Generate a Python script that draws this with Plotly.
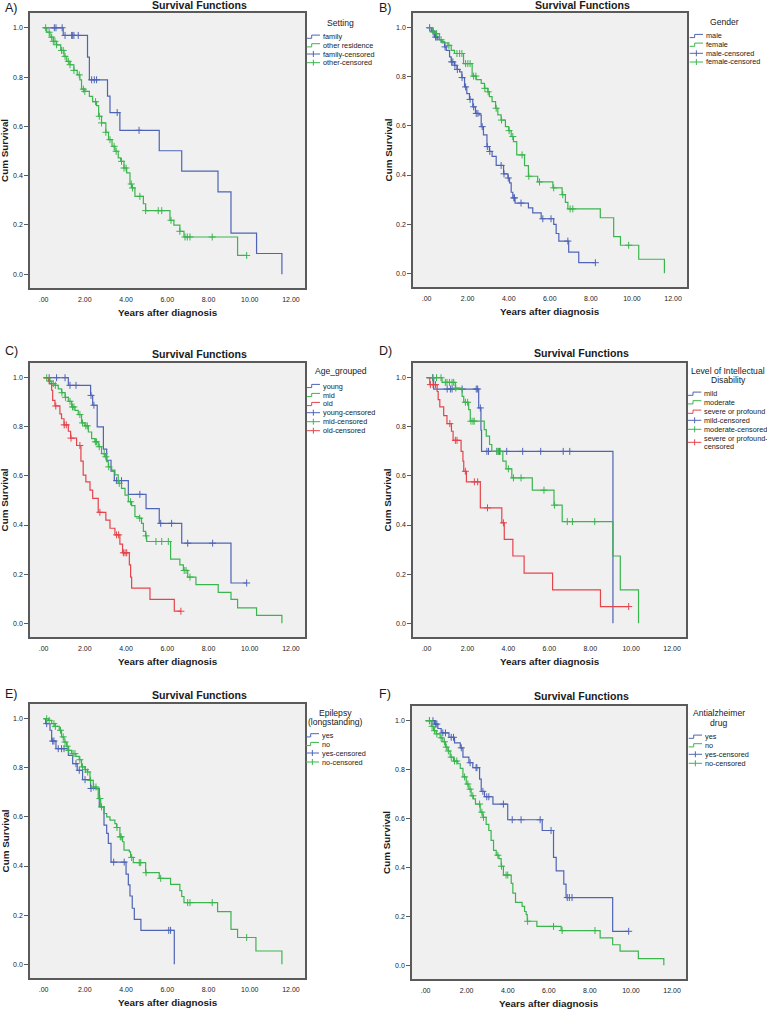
import plotly.graph_objects as go

W, H = 767, 1009
FONT = "Liberation Sans, Arial, sans-serif"
BLUE, GREEN, RED = "#4f64b6", "#3bb54e", "#e5444b"
FRAME = "#5a5a5a"
TXT = "#1a1a1a"

x_ticks = [0, 2, 4, 6, 8, 10, 12]
x_ticklabels = [".00", "2.00", "4.00", "6.00", "8.00", "10.00", "12.00"]
y_ticks = [0.0, 0.2, 0.4, 0.6, 0.8, 1.0]
y_ticklabels = ["0.0", "0.2", "0.4", "0.6", "0.8", "1.0"]

# A) Setting
a_family_t = [0.95, 2.13, 2.22, 3.10, 3.22, 3.70, 5.61, 6.70, 8.46, 9.09, 10.33, 11.56]
a_family_s = [0.969, 0.881, 0.789, 0.723, 0.656, 0.584, 0.501, 0.418, 0.334, 0.167, 0.084, 0.0]
a_family_c = [0.52, 0.60, 0.90, 1.04, 1.36, 1.41, 1.47, 1.68, 2.33, 2.46, 2.57, 3.57, 4.63]
a_other_t = [0.15, 0.31, 0.47, 0.63, 0.83, 0.99, 1.12, 1.28, 1.47, 1.63, 1.76, 1.84, 2.00, 2.22,
             2.38, 2.57, 2.67, 2.81, 3.02, 3.15, 3.32, 3.46, 3.62, 3.74, 3.90, 4.03, 4.19, 4.27,
             4.43, 4.84, 4.95, 6.13, 6.32, 6.61, 6.81, 9.41]
a_other_s = [0.982, 0.962, 0.945, 0.931, 0.908, 0.884, 0.864, 0.850, 0.827, 0.809, 0.789, 0.751,
             0.742, 0.722, 0.700, 0.684, 0.641, 0.614, 0.576, 0.546, 0.519, 0.499, 0.472, 0.458,
             0.431, 0.411, 0.366, 0.350, 0.316, 0.286, 0.258, 0.219, 0.199, 0.174, 0.151, 0.076]
a_other_c = [0.10, 0.27, 0.39, 0.47, 0.55, 0.63, 0.87, 0.95, 1.04, 1.20, 1.28, 1.47, 1.73, 1.93,
             2.00, 2.52, 2.70, 2.81, 3.02, 3.22, 3.42, 3.52, 3.78, 3.90, 4.00, 4.25, 4.31, 4.67,
             4.95, 5.56, 5.73, 6.18, 6.61, 6.86, 6.97, 7.10, 8.18, 9.85]
a_labels = ["family", "other residence", "family-censored", "other-censored"]

# B) Gender
b_male_t = [0.23, 0.39, 0.55, 0.71, 0.88, 0.96, 1.12, 1.20, 1.36, 1.48, 1.61, 1.72, 1.85, 1.96,
            2.09, 2.25, 2.38, 2.55, 2.66, 2.77, 2.94, 3.06, 3.19, 3.39, 3.75, 3.96, 4.04, 4.12,
            4.20, 4.31, 4.96, 5.17, 5.58, 6.19, 6.31, 6.44, 6.92, 7.41]
b_male_s = [0.986, 0.962, 0.951, 0.942, 0.922, 0.908, 0.881, 0.861, 0.847, 0.830, 0.820, 0.797,
            0.759, 0.732, 0.708, 0.678, 0.651, 0.645, 0.597, 0.564, 0.516, 0.496, 0.476, 0.439,
            0.405, 0.388, 0.368, 0.330, 0.307, 0.286, 0.266, 0.246, 0.222, 0.199, 0.162, 0.131,
            0.086, 0.043]
b_male_c = [0.15, 0.31, 0.44, 0.50, 0.90, 1.22, 1.28, 1.38, 1.50, 1.73, 1.90, 2.12, 2.29, 2.42,
            2.50, 2.71, 2.96, 3.08, 3.63, 3.77, 3.98, 4.25, 4.28, 4.60, 5.66, 6.06, 6.88, 8.22]
b_female_t = [0.31, 0.47, 0.63, 0.79, 1.04, 1.20, 1.36, 1.80, 2.22, 2.42, 2.66, 2.82, 2.98, 3.06,
              3.19, 3.36, 3.47, 3.63, 3.84, 4.00, 4.12, 4.23, 4.39, 4.77, 4.96, 5.41, 6.15, 6.60,
              6.76, 6.88, 8.46, 9.11, 9.44, 10.33, 11.58]
b_female_s = [0.982, 0.976, 0.951, 0.938, 0.928, 0.908, 0.895, 0.854, 0.803, 0.789, 0.773, 0.753,
              0.739, 0.719, 0.699, 0.672, 0.645, 0.624, 0.597, 0.581, 0.557, 0.536, 0.482, 0.438,
              0.395, 0.372, 0.348, 0.320, 0.289, 0.262, 0.226, 0.149, 0.114, 0.057, 0.0]
b_female_c = [0.33, 0.49, 0.71, 1.09, 1.48, 1.61, 1.72, 1.90, 2.01, 2.12, 2.29, 2.40, 2.84, 3.00,
              3.39, 3.65, 4.02, 4.20, 4.65, 4.98, 5.50, 6.19, 6.63, 6.99, 7.12, 9.84]
b_labels = ["male", "female", "male-censored", "female-censored"]

# C) Age_grouped
c_young_t = [1.20, 2.28, 2.38, 2.60, 2.90, 3.06, 3.27, 3.43, 4.11, 4.97, 5.61, 6.70, 9.09]
c_young_s = [0.969, 0.928, 0.888, 0.800, 0.709, 0.664, 0.620, 0.581, 0.525, 0.467, 0.407, 0.326, 0.164]
c_young_c = [0.27, 0.63, 1.04, 1.28, 1.57, 2.30, 2.44, 3.54, 3.78, 4.67, 5.68, 6.21, 6.99, 8.20, 9.85]
c_mid_t = [0.23, 0.39, 0.55, 0.71, 0.87, 1.04, 1.20, 1.36, 1.52, 1.68, 1.84, 2.00, 2.17, 2.33,
           2.49, 2.65, 2.81, 2.98, 3.06, 3.14, 3.30, 3.46, 3.62, 3.78, 3.95, 4.11, 4.27, 4.43,
           4.64, 4.75, 4.84, 4.95, 5.00, 6.16, 6.61, 6.78, 6.99, 7.39, 8.47, 9.09, 9.41, 10.33, 11.56]
c_mid_s = [0.986, 0.976, 0.969, 0.955, 0.939, 0.920, 0.904, 0.881, 0.867, 0.850, 0.816, 0.804,
           0.779, 0.752, 0.739, 0.719, 0.691, 0.678, 0.658, 0.637, 0.624, 0.604, 0.570, 0.549,
           0.522, 0.495, 0.479, 0.434, 0.428, 0.407, 0.374, 0.356, 0.333, 0.261, 0.238, 0.215,
           0.188, 0.157, 0.126, 0.097, 0.063, 0.032, 0.0]
c_mid_c = [0.15, 0.31, 0.47, 0.57, 0.89, 1.06, 1.28, 1.40, 1.47, 1.76, 1.89, 2.05, 2.12, 2.51,
           2.57, 2.70, 2.94, 3.02, 3.16, 3.67, 4.22, 4.66, 4.97, 5.45, 5.73, 6.05, 6.82, 6.91, 7.10]
c_old_t = [0.27, 0.39, 0.44, 0.55, 0.79, 0.87, 0.99, 1.20, 1.31, 1.60, 1.81, 1.92, 2.05, 2.25,
           2.38, 2.65, 3.02, 3.22, 3.46, 3.70, 3.83, 4.16, 4.22, 4.27, 5.16, 6.34]
c_old_s = [0.976, 0.949, 0.908, 0.885, 0.853, 0.833, 0.808, 0.782, 0.754, 0.724, 0.660, 0.603,
           0.576, 0.542, 0.509, 0.452, 0.420, 0.387, 0.360, 0.322, 0.287, 0.238, 0.188, 0.143,
           0.097, 0.049]
c_old_c = [0.59, 1.00, 1.10, 1.33, 1.76, 2.73, 3.54, 3.64, 3.87, 3.95, 4.03, 6.66]
c_labels = ["young", "mid", "old", "young-censored", "mid-censored", "old-censored"]

# D) Level of Intellectual Disability
d_mild_t = [0.35, 2.55, 2.66, 2.69, 9.11]
d_mild_s = [0.954, 0.877, 0.786, 0.700, 0.0]
d_mild_c = [0.30, 1.01, 1.17, 1.25, 1.74, 2.43, 2.50, 2.63, 2.95, 3.03, 3.44, 3.57, 3.92, 4.70,
            5.58, 6.68, 7.00]
d_mod_t = [0.76, 1.41, 1.74, 1.82, 2.06, 2.14, 2.82, 2.92, 3.08, 3.19, 3.73, 3.89, 4.17, 5.17,
           6.23, 6.63, 9.11, 9.47, 10.36]
d_mod_s = [0.981, 0.958, 0.924, 0.900, 0.870, 0.823, 0.789, 0.762, 0.728, 0.700, 0.660, 0.629,
           0.592, 0.542, 0.481, 0.414, 0.274, 0.136, 0.0]
d_mod_c = [0.32, 0.49, 0.71, 0.92, 1.00, 1.12, 1.25, 1.33, 1.43, 1.90, 2.01, 2.17, 2.27, 2.33,
           3.44, 3.52, 3.60, 4.00, 4.25, 4.62, 5.74, 6.25, 6.88, 7.13, 8.22]
d_sev_t = [0.16, 0.52, 0.57, 0.65, 0.84, 1.00, 1.22, 1.30, 1.69, 1.78, 1.82, 1.95, 2.63, 3.68,
           3.80, 4.22, 4.77, 6.16, 8.50]
d_sev_s = [0.972, 0.944, 0.911, 0.881, 0.846, 0.813, 0.782, 0.745, 0.700, 0.660, 0.619, 0.576,
           0.470, 0.409, 0.342, 0.274, 0.204, 0.136, 0.068]
d_sev_c = [0.19, 0.32, 0.44, 1.14, 1.41, 1.49, 1.90, 2.34, 2.50, 2.98, 3.76, 9.88]
d_labels = ["mild", "moderate", "severe or profound", "mild-censored", "moderate-censored",
            "severe or profound-<br>censored"]

# E) Epilepsy (longstanding)
e_yes_t = [0.10, 0.31, 0.39, 0.60, 1.20, 1.41, 1.63, 1.89, 2.28, 2.70, 2.93, 3.06, 3.14, 3.27,
           4.00, 4.11, 4.19, 4.30, 4.40, 4.72, 6.34]
e_yes_s = [0.980, 0.953, 0.909, 0.878, 0.851, 0.817, 0.790, 0.752, 0.716, 0.641, 0.567, 0.533,
           0.492, 0.416, 0.367, 0.323, 0.278, 0.228, 0.183, 0.138, 0.0]
e_yes_c = [0.15, 0.44, 0.50, 0.71, 0.87, 0.99, 1.57, 1.73, 2.01, 2.30, 3.40, 3.91, 6.07, 6.16]
e_no_t = [0.23, 0.39, 0.55, 0.76, 0.87, 0.99, 1.12, 1.20, 1.36, 1.57, 1.73, 1.84, 2.00, 2.12,
          2.25, 2.41, 2.57, 2.65, 2.77, 2.93, 3.06, 3.22, 3.46, 3.54, 3.70, 3.83, 3.90, 4.16,
          4.22, 4.35, 4.95, 5.61, 6.16, 6.61, 6.70, 6.81, 8.44, 9.09, 9.41, 10.30, 11.56]
e_no_s = [0.993, 0.980, 0.969, 0.953, 0.926, 0.905, 0.888, 0.871, 0.858, 0.847, 0.833, 0.804,
          0.793, 0.783, 0.749, 0.722, 0.714, 0.675, 0.641, 0.614, 0.600, 0.587, 0.573, 0.557,
          0.519, 0.499, 0.465, 0.458, 0.435, 0.414, 0.373, 0.350, 0.325, 0.300, 0.276, 0.251,
          0.214, 0.142, 0.109, 0.054, 0.0]
e_no_c = [0.15, 0.27, 0.50, 0.57, 0.82, 0.95, 1.04, 1.14, 1.22, 1.43, 1.52, 1.76, 1.89, 2.03,
          2.14, 2.27, 2.43, 2.54, 2.73, 2.81, 3.56, 3.72, 3.76, 4.27, 4.64, 4.71, 4.97, 5.68,
          6.99, 7.10, 8.18, 9.85]
e_labels = ["yes", "no", "yes-censored", "no-censored"]

# F) Antialzheimer drug
f_yes_t = [0.44, 0.60, 0.76, 1.14, 1.41, 1.69, 1.82, 2.11, 2.30, 2.63, 2.71, 2.87, 3.28, 4.00,
           5.68, 6.23, 6.36, 6.73, 6.84, 9.11]
f_yes_s = [0.986, 0.968, 0.950, 0.932, 0.909, 0.889, 0.851, 0.828, 0.808, 0.761, 0.711, 0.689,
           0.659, 0.595, 0.551, 0.441, 0.386, 0.332, 0.277, 0.139]
f_yes_c = [0.19, 0.36, 0.49, 0.55, 0.84, 0.97, 1.25, 1.36, 1.74, 2.17, 2.46, 2.50, 2.79, 2.98,
           3.08, 3.79, 4.22, 4.65, 5.58, 6.11, 6.90, 7.00, 7.13, 9.89]
f_no_t = [0.28, 0.39, 0.52, 0.71, 0.84, 0.97, 1.09, 1.20, 1.36, 1.57, 1.69, 1.82, 1.98, 2.11,
          2.22, 2.33, 2.43, 2.66, 2.79, 2.95, 3.08, 3.19, 3.31, 3.44, 3.57, 3.68, 3.79, 4.17,
          4.25, 4.38, 4.70, 4.82, 4.90, 4.95, 5.42, 6.60, 8.50, 9.11, 9.47, 10.36, 11.60]
f_no_s = [0.977, 0.959, 0.946, 0.930, 0.914, 0.892, 0.876, 0.851, 0.835, 0.824, 0.805, 0.770,
          0.741, 0.720, 0.693, 0.680, 0.659, 0.626, 0.605, 0.576, 0.551, 0.511, 0.470, 0.450,
          0.436, 0.405, 0.369, 0.335, 0.295, 0.257, 0.241, 0.220, 0.207, 0.180, 0.159, 0.142,
          0.112, 0.084, 0.058, 0.027, 0.0]
f_no_c = [0.19, 0.32, 0.44, 0.55, 0.76, 0.92, 1.01, 1.11, 1.25, 1.41, 1.52, 1.90, 2.06, 2.17,
          2.30, 2.63, 2.74, 2.82, 3.52, 3.70, 3.92, 4.00, 4.97, 6.23, 6.65, 8.25]
f_labels = ["yes", "no", "yes-censored", "no-censored"]


def px(x):
    return x / W


def py(y):
    return 1 - y / H


def surv_at(times, surv, t):
    s = 1.0
    for ti, si in zip(times, surv):
        if ti <= t:
            s = si
    return s


panels = [
    dict(frame=(30, 13, 305, 288), tag="A)", tag_xy=(2.5, 8.3), title_y=5.2,
         leg_title=[("Setting", 23)], leg_cx=340, sym_x=306.7,
         rows=[36.7, 45.3, 54, 62.7], labels=a_labels,
         curves=[(a_family_t, a_family_s, a_family_c, BLUE), (a_other_t, a_other_s, a_other_c, GREEN)]),
    dict(frame=(413, 13, 687, 287), tag="B)", tag_xy=(377, 8.3), title_y=4.6,
         leg_title=[("Gender", 22)], leg_cx=724, sym_x=689.7,
         rows=[36, 44.7, 53.3, 62], labels=b_labels,
         curves=[(b_male_t, b_male_s, b_male_c, BLUE), (b_female_t, b_female_s, b_female_c, GREEN)]),
    dict(frame=(30, 363, 305, 637), tag="C)", tag_xy=(2.5, 351), title_y=353.7,
         leg_title=[("Age_grouped", 371)], leg_cx=340.5, sym_x=306.7,
         rows=[386, 395, 404, 412.7, 421.7, 430.7], labels=c_labels,
         curves=[(c_young_t, c_young_s, c_young_c, BLUE), (c_mid_t, c_mid_s, c_mid_c, GREEN),
                 (c_old_t, c_old_s, c_old_c, RED)]),
    dict(frame=(413, 363, 686, 637), tag="D)", tag_xy=(377, 351), title_y=353,
         leg_title=[("Level of Intellectual", 370.7), ("Disability", 379.7)], leg_cx=728, sym_x=688,
         rows=[393.7, 402.3, 411.7, 420.3, 429.3, 442.3], labels=d_labels,
         curves=[(d_mild_t, d_mild_s, d_mild_c, BLUE), (d_mod_t, d_mod_s, d_mod_c, GREEN),
                 (d_sev_t, d_sev_s, d_sev_c, RED)]),
    dict(frame=(30, 704, 305, 978), tag="E)", tag_xy=(2.5, 694), title_y=694.7,
         leg_title=[("Epilepsy", 712.7), ("(longstanding)", 721.7)], leg_cx=335.5, sym_x=305.7,
         rows=[735.3, 744, 753, 762], labels=e_labels,
         curves=[(e_yes_t, e_yes_s, e_yes_c, BLUE), (e_no_t, e_no_s, e_no_c, GREEN)]),
    dict(frame=(412, 706, 686, 979), tag="F)", tag_xy=(377, 694), title_y=696.2,
         leg_title=[("Antialzheimer", 713.3), ("drug", 722.7)], leg_cx=718.5, sym_x=688.7,
         rows=[736.7, 745.3, 754.3, 763.3], labels=f_labels,
         curves=[(f_yes_t, f_yes_s, f_yes_c, BLUE), (f_no_t, f_no_s, f_no_c, GREEN)]),
]

fig = go.Figure()
shapes, annotations = [], []
layout_axes = {}


def ann(text, x, y, size, xanchor="center", bold=False, angle=0):
    annotations.append(dict(
        text=text, x=px(x), y=py(y), xref="paper", yref="paper", showarrow=False,
        xanchor=xanchor, yanchor="middle", textangle=angle,
        font=dict(family=FONT, size=size, color=TXT, weight="bold" if bold else "normal")))


for i, p in enumerate(panels, start=1):
    l, t, r, b = p["frame"]
    xa, ya = f"x{i}", f"y{i}"
    layout_axes[f"xaxis{i}"] = dict(
        domain=[px(l), px(r)], range=[-0.66, 12.68], anchor=ya,
        tickvals=x_ticks, ticktext=x_ticklabels, ticks="", ticklabelstandoff=4,
        showline=True, mirror=True, linecolor=FRAME, linewidth=1.5,
        showgrid=False, zeroline=False, fixedrange=True,
        tickfont=dict(family=FONT, size=7, color=TXT))
    layout_axes[f"yaxis{i}"] = dict(
        domain=[py(b), py(t)], range=[-0.056, 1.06], anchor=xa,
        tickvals=y_ticks, ticktext=y_ticklabels, ticks="outside", ticklen=4,
        tickcolor=FRAME, tickwidth=1,
        showline=True, mirror=True, linecolor=FRAME, linewidth=1.5,
        showgrid=False, zeroline=False, fixedrange=True,
        tickfont=dict(family=FONT, size=7, color=TXT))

    for times, surv, cens, color in p["curves"]:
        end = max([times[-1]] + cens)
        xs = [0.0] + times
        ys = [1.0] + surv
        if end > times[-1]:
            xs.append(end)
            ys.append(surv[-1])
        fig.add_trace(go.Scatter(x=xs, y=ys, mode="lines", line=dict(color=color, width=1.2, shape="hv"),
                                 xaxis=xa, yaxis=ya, showlegend=False, hoverinfo="skip"))
        fig.add_trace(go.Scatter(x=cens, y=[surv_at(times, surv, c) for c in cens], mode="markers",
                                 marker=dict(symbol="cross-thin", size=5, line=dict(color=color, width=1)),
                                 xaxis=xa, yaxis=ya, showlegend=False, hoverinfo="skip"))

    # panel texts
    ann(p["tag"], p["tag_xy"][0], p["tag_xy"][1], 12.5, xanchor="left")
    ann("Survival Functions", (l + r) / 2 + 32, p["title_y"], 10.6, bold=True)
    ann("Years after diagnosis", (l + r) / 2, b + 24.7, 9.9, bold=True)
    ann("Cum Survival", l - 25.5, (t + b) / 2, 9.9, bold=True, angle=-90)

    # legend
    for text, y in p["leg_title"]:
        ann(text, p["leg_cx"], y, 8.6)
    n = len(p["curves"])
    x0 = p["sym_x"]
    x1 = x0 + 13.3
    for k, (label, y) in enumerate(zip(p["labels"], p["rows"])):
        color = p["curves"][k % n][3]
        if k < n:
            path = (f"M{px(x0)},{py(y + 1.6)} L{px(x0 + 5)},{py(y + 1.6)} "
                    f"L{px(x0 + 5)},{py(y - 1.6)} L{px(x1)},{py(y - 1.6)}")
            shapes.append(dict(type="path", xref="paper", yref="paper", path=path,
                               line=dict(color=color, width=1)))
        else:
            shapes.append(dict(type="line", xref="paper", yref="paper", x0=px(x0), x1=px(x1),
                               y0=py(y), y1=py(y), line=dict(color=color, width=1)))
            xm = (x0 + x1) / 2
            shapes.append(dict(type="line", xref="paper", yref="paper", x0=px(xm), x1=px(xm),
                               y0=py(y - 3), y1=py(y + 3), line=dict(color=color, width=1)))
        lines = label.split("<br>")
        if len(lines) == 1:
            ann(label, x1 + 0.8, y, 7.3, xanchor="left")
        else:
            ann(lines[0], x1 + 0.8, y - 4.2, 7.3, xanchor="left")
            ann(lines[1], x1 + 0.8, y + 4.2, 7.3, xanchor="left")

fig.update_layout(
    width=W, height=H, margin=dict(l=0, r=0, t=0, b=0),
    paper_bgcolor="white", plot_bgcolor="#f0f0f0",
    shapes=shapes, annotations=annotations, showlegend=False,
    font=dict(family=FONT, color=TXT),
    **layout_axes)

# the page's default body margin would push the figure 8px off its origin
fig.write_html("out.html", config={"displayModeBar": False},
               post_script="document.body.style.margin='0px';")
